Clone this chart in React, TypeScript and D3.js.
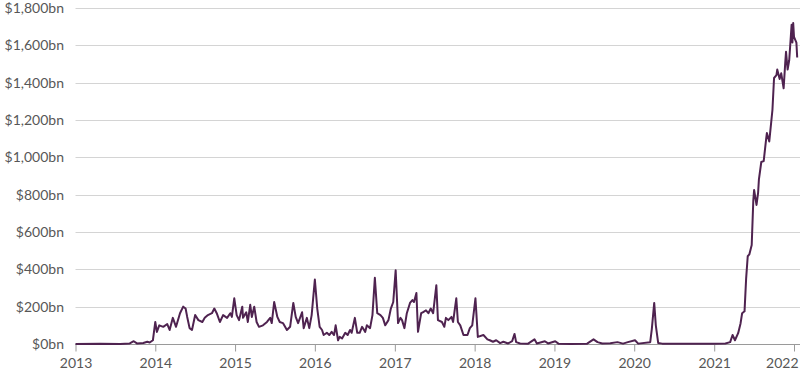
import React, { useEffect, useRef } from 'react';
import * as d3 from 'd3';

// decimal years
const dates: number[] = [
  2013.0, 2013.31, 2013.56, 2013.68, 2013.73, 2013.77, 2013.85, 2013.9, 2013.93, 2013.97,
  2014.0, 2014.02, 2014.05, 2014.1, 2014.15, 2014.18, 2014.22, 2014.26, 2014.31, 2014.35,
  2014.38, 2014.4, 2014.43, 2014.46, 2014.5, 2014.54, 2014.59, 2014.62, 2014.66, 2014.71,
  2014.74, 2014.77, 2014.81, 2014.85, 2014.9, 2014.94, 2014.96, 2014.99, 2015.02, 2015.05,
  2015.09, 2015.1, 2015.14, 2015.16, 2015.19, 2015.21, 2015.24, 2015.27, 2015.3, 2015.35,
  2015.4, 2015.44, 2015.46, 2015.49, 2015.53, 2015.56, 2015.6, 2015.65, 2015.69, 2015.73,
  2015.76, 2015.79, 2015.84, 2015.86, 2015.9, 2015.93, 2015.96, 2016.0, 2016.03, 2016.06,
  2016.09, 2016.11, 2016.15, 2016.18, 2016.21, 2016.24, 2016.26, 2016.29, 2016.31, 2016.34,
  2016.38, 2016.41, 2016.44, 2016.46, 2016.5, 2016.53, 2016.56, 2016.59, 2016.63, 2016.65,
  2016.69, 2016.72, 2016.75, 2016.78, 2016.82, 2016.85, 2016.88, 2016.92, 2016.95, 2016.98,
  2017.01, 2017.04, 2017.07, 2017.09, 2017.12, 2017.15, 2017.19, 2017.22, 2017.24, 2017.27,
  2017.29, 2017.33, 2017.35, 2017.39, 2017.42, 2017.45, 2017.48, 2017.52, 2017.54, 2017.59,
  2017.62, 2017.64, 2017.67, 2017.71, 2017.73, 2017.77, 2017.79, 2017.82, 2017.86, 2017.91,
  2017.94, 2017.97, 2018.01, 2018.04, 2018.11, 2018.16, 2018.19, 2018.23, 2018.27, 2018.32,
  2018.36, 2018.42, 2018.47, 2018.5, 2018.52, 2018.57, 2018.67, 2018.75, 2018.78, 2018.88,
  2018.92, 2019.01, 2019.05, 2019.2, 2019.41, 2019.49, 2019.54, 2019.6, 2019.7, 2019.79,
  2019.86, 2019.92, 2020.01, 2020.05, 2020.2, 2020.22, 2020.25, 2020.27, 2020.3, 2020.35,
  2020.58, 2020.83, 2021.0, 2021.14, 2021.2, 2021.23, 2021.26, 2021.3, 2021.33, 2021.35,
  2021.38, 2021.4, 2021.42, 2021.44, 2021.47, 2021.49, 2021.5, 2021.53, 2021.55, 2021.56,
  2021.59, 2021.62, 2021.65, 2021.66, 2021.69, 2021.73, 2021.75, 2021.78, 2021.79, 2021.82,
  2021.84, 2021.87, 2021.89, 2021.9, 2021.92, 2021.94, 2021.97, 2021.98, 2021.99, 2022.0,
  2022.03, 2022.04,
];

// $bn
const values: number[] = [
  0, 2, 0, 3, 15, 3, 5, 12, 8, 20,
  118, 65, 100, 92, 107, 75, 140, 92, 165, 200,
  190, 145, 85, 75, 155, 128, 118, 140, 155, 165,
  190, 165, 118, 155, 140, 165, 145, 245, 155, 128,
  200, 140, 170, 118, 210, 145, 200, 118, 92, 100,
  118, 140, 112, 225, 145, 118, 112, 75, 92, 220,
  145, 112, 170, 85, 140, 85, 155, 345, 190, 92,
  75, 48, 60, 48, 65, 48, 100, 20, 38, 30,
  60, 48, 75, 60, 140, 60, 60, 92, 65, 100,
  85, 155, 355, 165, 155, 140, 100, 128, 190, 225,
  395, 112, 140, 128, 85, 165, 220, 235, 225, 273,
  65, 165, 170, 180, 165, 190, 165, 315, 128, 118,
  92, 140, 128, 145, 118, 245, 118, 100, 48, 48,
  85, 100, 245, 38, 48, 25, 20, 12, 20, 5,
  12, 3, 15, 54, 10, 3, 2, 25, 3, 15,
  3, 15, 2, 0, 2, 25, 10, 3, 4, 10,
  2, 10, 20, 2, 10, 80, 220, 100, 5, 2,
  1, 2, 1, 3, 10, 48, 20, 58, 110, 165,
  175, 350, 470, 480, 530, 770, 825, 745, 810, 880,
  975, 980, 1095, 1130, 1085, 1255, 1425, 1440, 1470, 1420,
  1450, 1370, 1505, 1565, 1470, 1520, 1710, 1615, 1720, 1645,
  1615, 1535,
];

const yTicks: number[] = [0, 200, 400, 600, 800, 1000, 1200, 1400, 1600, 1800];
const xTickYears: number[] = [2013, 2014, 2015, 2016, 2017, 2018, 2019, 2020, 2021, 2022];

const toDate = (t: number) => {
  const y = Math.floor(t);
  const start = Date.UTC(y, 0, 1);
  const end = Date.UTC(y + 1, 0, 1);
  return new Date(start + (t - y) * (end - start));
};

const W = 800;
const H = 375;

const App = () => {
  const svgRef = useRef<SVGSVGElement>(null);

  useEffect(() => {
    const svg = d3.select(svgRef.current);
    svg.selectAll('*').remove();

    const left = 75.5;
    const right = 794;
    const x = d3.scaleTime()
      .domain([toDate(2013), toDate(2022)])
      .range([left, right]);
    const y = d3.scaleLinear().domain([0, 1800]).range([344, 8]);

    const font = 'Lato, "Open Sans", sans-serif';

    // grid
    svg.append('g')
      .selectAll('line')
      .data(yTicks.filter(d => d > 0))
      .enter()
      .append('line')
      .attr('x1', left)
      .attr('x2', W)
      .attr('y1', d => Math.round(y(d)) + 0.5)
      .attr('y2', d => Math.round(y(d)) + 0.5)
      .attr('stroke', '#d4d4d4')
      .attr('stroke-width', 1);

    // y labels
    svg.append('g')
      .selectAll('text')
      .data(yTicks)
      .enter()
      .append('text')
      .attr('x', 64)
      .attr('y', d => y(d))
      .attr('dy', '0.35em')
      .attr('text-anchor', 'end')
      .attr('font-family', font)
      .attr('font-size', 14)
      .attr('fill', '#575757')
      .text(d => `$${d3.format(',')(d)}bn`);

    // x axis
    const xAxis = svg.append('g')
      .attr('transform', `translate(0,${Math.round(y(0)) + 0.5})`)
      .call(
        d3.axisBottom(x)
          .tickValues(xTickYears.map(toDate))
          .tickSize(7)
          .tickSizeOuter(0)
          .tickPadding(7)
          .tickFormat(d => d3.utcFormat('%Y')(d as Date))
      );
    xAxis.select('.domain').attr('stroke', '#9a9a9a').attr('d', `M${left},0H${W}`);
    xAxis.selectAll('.tick line').attr('stroke', '#9a9a9a');
    xAxis.selectAll('.tick text')
      .attr('font-family', font)
      .attr('font-size', 14)
      .attr('fill', '#575757');
    // keep the last year label inside the frame
    xAxis.selectAll<SVGTextElement, Date>('.tick text')
      .filter((_, i, n) => i === n.length - 1)
      .attr('text-anchor', 'end')
      .attr('x', W - 2 - right);

    // series
    const line = d3.line<number>()
      .x((_, i) => x(toDate(dates[i])))
      .y(d => y(d));

    svg.append('path')
      .datum(values)
      .attr('fill', 'none')
      .attr('stroke', '#4f2350')
      .attr('stroke-width', 2)
      .attr('stroke-linejoin', 'round')
      .attr('d', line);
  }, []);

  return (
    <div style={{ width: W, height: H }}>
      <style>{`body{margin:0}`}</style>
      <svg ref={svgRef} width={W} height={H} style={{ display: 'block', background: '#fff' }} />
    </div>
  );
};

export default App;
